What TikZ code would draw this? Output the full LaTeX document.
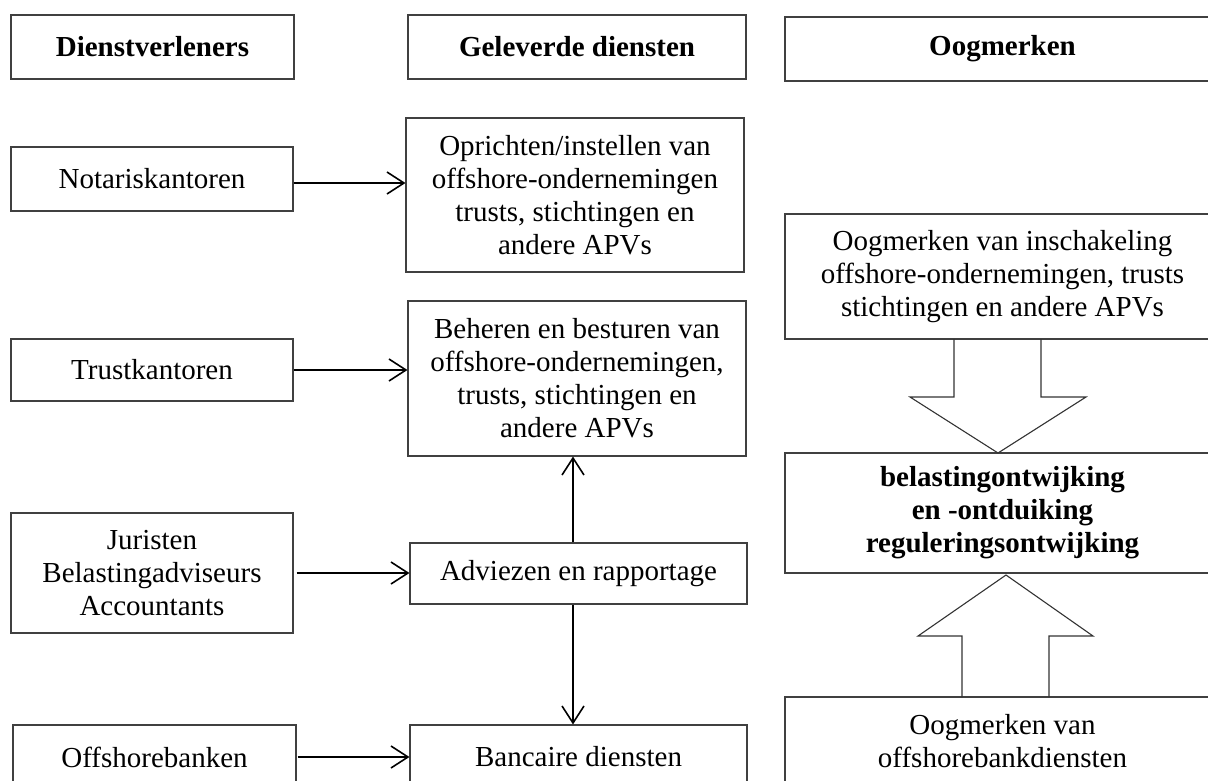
\documentclass[tikz,border=0pt]{standalone}
\usepackage{fontspec}
\setmainfont{Liberation Serif}
\usetikzlibrary{arrows.meta}

\tikzset{
  box/.style={draw=black!75, line width=1.1pt, inner sep=0pt, align=center,
              font=\fontsize{29}{33}\selectfont},
  headbox/.style={box, font=\fontsize{29}{33}\selectfont\bfseries},
  conn/.style={line width=1.6pt, -{Straight Barb[length=17pt,width=22pt,line width=1.6pt]}},
  blockarrow/.style={draw=black!80, line width=1.1pt, line join=miter}
}

\begin{document}
\begin{tikzpicture}[x=1pt,y=-1pt]
  \useasboundingbox (0,0) rectangle (1208,780);
  \clip (0,0) rectangle (1208,780);

  % column headers
  \node[headbox, minimum width=283pt, minimum height=64pt] (hdienst) at (152.5,47) {Dienstverleners};
  \node[headbox, minimum width=338pt, minimum height=64pt] (hgelev)  at (577,47)   {Geleverde diensten};
  \node[headbox, minimum width=435pt, minimum height=64pt] (hoog)    at (1002.5,49) {Oogmerken};

  % service providers
  \node[box, minimum width=282pt, minimum height=64pt]  (notaris) at (152,179) {Notariskantoren};
  \node[box, minimum width=282pt, minimum height=62pt]  (trust)   at (152,370) {Trustkantoren};
  \node[box, minimum width=282pt, minimum height=120pt] (jurist)  at (152,573) {Juristen\\Belastingadviseurs\\Accountants};
  \node[box, minimum width=283pt, minimum height=64pt]  (obank)   at (154.5,757) {Offshorebanken};

  % services delivered
  \node[box, minimum width=338pt, minimum height=154pt] (oprichten) at (575,195)
    {Oprichten/instellen van\\offshore-ondernemingen\\trusts, stichtingen en\\andere APVs};
  \node[box, minimum width=338pt, minimum height=155pt] (beheren) at (577,378.5)
    {Beheren en besturen van\\offshore-ondernemingen,\\trusts, stichtingen en\\andere APVs};
  \node[box, minimum width=337pt, minimum height=61pt] (advies) at (578.5,573.5) {Adviezen en rapportage};
  \node[box, minimum width=337pt, minimum height=64pt] (bank)   at (578.5,757) {Bancaire diensten};

  % purposes
  \node[box, minimum width=435pt, minimum height=125pt] (doel1) at (1002.5,276.5)
    {Oogmerken van inschakeling\\offshore-ondernemingen, trusts\\stichtingen en andere APVs};
  \node[box, minimum width=435pt, minimum height=120pt, font=\fontsize{29}{33}\selectfont\bfseries] (doel2) at (1002.5,513)
    {belastingontwijking\\en -ontduiking\\reguleringsontwijking};
  \node[box, minimum width=435pt, minimum height=88pt] (doel3) at (1002.5,741)
    {Oogmerken van\\offshorebankdiensten};

  % connectors
  \draw[conn] ([yshift=-4pt]notaris.east) -- ([yshift=-4pt]notaris.east -| oprichten.west);
  \draw[conn] (trust.east) -- (trust.east -| beheren.west);
  \draw[conn] ([xshift=3pt]jurist.east) -- (jurist.east -| advies.west);
  \draw[conn] ([xshift=1pt]obank.east) -- (obank.east -| bank.west);
  \draw[conn] ([xshift=-5.5pt]advies.north) -- ([xshift=-5.5pt]advies.north |- beheren.south);
  \draw[conn] ([xshift=-5.5pt]advies.south) -- ([xshift=-5.5pt]advies.south |- bank.north);

  % block arrows into the central purpose
  \draw[blockarrow] (954,339) -- (954,397) -- (910,397) -- (998,453)
                    -- (1086,397) -- (1041,397) -- (1041,339);
  \draw[blockarrow] (962,697) -- (962,636) -- (918,636) -- (1006,575)
                    -- (1093,636) -- (1049,636) -- (1049,697);
\end{tikzpicture}
\end{document}
